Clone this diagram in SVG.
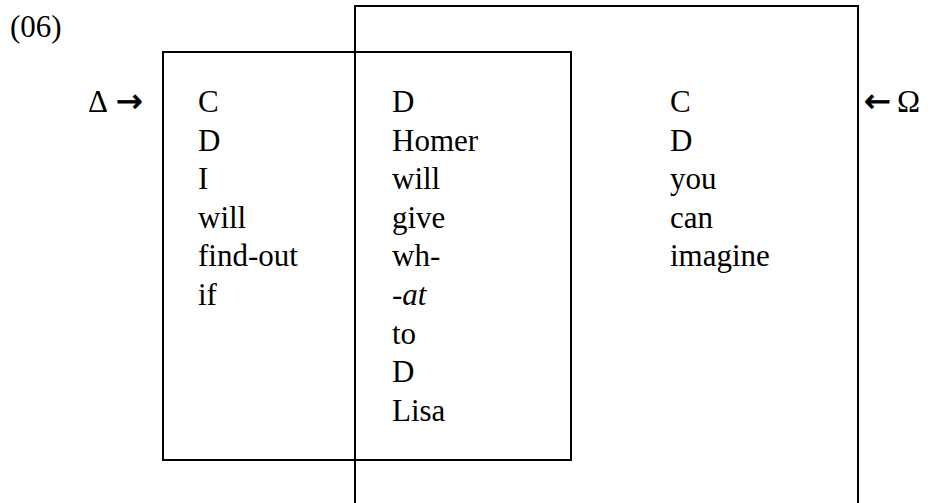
<svg xmlns="http://www.w3.org/2000/svg" width="937" height="503" viewBox="0 0 937 503">
<style>
text{font-family:"Liberation Serif","DejaVu Serif",serif;font-size:31px;fill:#000}
.box{fill:none;stroke:#000;stroke-width:2}
.it{font-style:italic}
.arr{font-family:"DejaVu Sans",sans-serif;font-size:32px;stroke:#000;stroke-width:0.8}
</style>
<rect width="937" height="503" fill="#fff"/>
<text x="10" y="37">(06)</text>
<g id="box-outer">
<rect class="box" x="355" y="6" width="503" height="510"/>
</g>
<g id="box-inner">
<rect class="box" x="163" y="52" width="408" height="408"/>
</g>
<g id="delta"><text x="88" y="112">Δ</text><text class="arr" x="116" y="112">→</text></g>
<g id="omega"><text class="arr" x="864" y="112">←</text><text x="897" y="112">Ω</text></g>
<g id="col1">
<text x="198" y="112">C</text>
<text x="198" y="150.6">D</text>
<text x="198" y="189.2">I</text>
<text x="198" y="227.8">will</text>
<text x="198" y="266.4">find-out</text>
<text x="198" y="305">if</text>
</g>
<g id="col2">
<text x="392" y="112">D</text>
<text x="392" y="150.6">Homer</text>
<text x="392" y="189.2">will</text>
<text x="392" y="227.8">give</text>
<text x="392" y="266.4">wh-</text>
<text x="392" y="305" class="it">-at</text>
<text x="392" y="343.6">to</text>
<text x="392" y="382.2">D</text>
<text x="392" y="420.8">Lisa</text>
</g>
<g id="col3">
<text x="670" y="112">C</text>
<text x="670" y="150.6">D</text>
<text x="670" y="189.2">you</text>
<text x="670" y="227.8">can</text>
<text x="670" y="266.4">imagine</text>
</g>
<g id="connectors"></g>
</svg>
